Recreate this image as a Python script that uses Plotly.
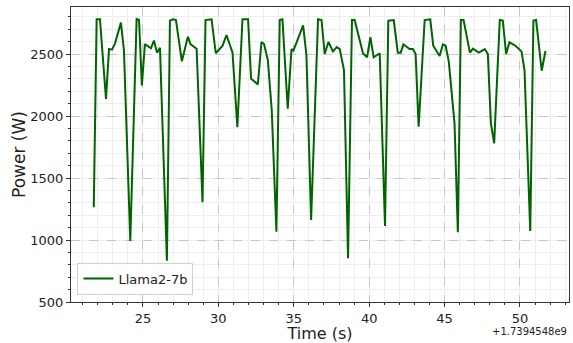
import plotly.graph_objects as go

TIME_OFFSET = 1.7394548e9
OFFSET_LABEL = "+1.7394548e9"
SERIES_NAME = "Llama2-7b"

# time (s) relative to TIME_OFFSET
time_rel = [21.74, 21.93, 22.15, 22.55, 22.75, 22.95, 23.15, 23.54, 23.74, 24.16,
            24.58, 24.74, 24.93, 25.13, 25.53, 25.73, 25.93, 26.13, 26.59, 26.79,
            26.99, 27.19, 27.58, 27.98, 28.16, 28.56, 28.95, 29.15, 29.55, 29.83,
            30.28, 30.54, 30.94, 31.26, 31.6, 31.97, 32.17, 32.62, 32.86, 33.03,
            33.28, 33.54, 33.85, 34.07, 34.25, 34.6, 34.85, 34.98, 35.62, 35.84,
            36.15, 36.61, 36.84, 37.05, 37.3, 37.6, 37.85, 38.05, 38.33, 38.6,
            38.86, 39.04, 39.59, 39.86, 40.08, 40.3, 40.7, 41.05, 41.27, 41.63,
            41.9, 42.09, 42.27, 42.68, 42.9, 43.08, 43.28, 43.68, 44.05, 44.25,
            44.67, 44.89, 45.07, 45.28, 45.66, 45.88, 46.08, 46.26, 46.68, 46.88,
            47.27, 47.67, 47.87, 48.07, 48.29, 48.66, 48.86, 49.08, 49.3, 49.7,
            50.1, 50.3, 50.68, 50.89, 51.07, 51.44, 51.69]
power_w = [1264, 2780, 2780, 2137, 2540, 2535, 2586, 2753, 2532, 992,
           2782, 2774, 2247, 2580, 2546, 2608, 2511, 2551, 833, 2769,
           2780, 2774, 2441, 2640, 2578, 2543, 1304, 2774, 2780, 2506,
           2567, 2653, 2511, 1909, 2780, 2780, 2301, 2255, 2597, 2580,
           2452, 2048, 1067, 2774, 2780, 2059, 2540, 2527, 2731, 2492,
           1161, 2780, 2774, 2500, 2597, 2521, 2556, 2540, 2371, 852,
           2774, 2774, 2506, 2473, 2635, 2473, 2506, 1113, 2769, 2774,
           2511, 2511, 2578, 2540, 2540, 2500, 1914, 2774, 2780, 2567,
           2484, 2578, 2567, 2438, 1941, 1062, 2774, 2774, 2511, 2543,
           2511, 2540, 2500, 1941, 1780, 2774, 2769, 2500, 2594, 2567,
           2521, 2371, 1073, 2769, 2774, 2365, 2524]

x_ticks = [25, 30, 35, 40, 45, 50]
y_ticks = [500, 1000, 1500, 2000, 2500]

fig = go.Figure()
fig.add_trace(go.Scatter(
    x=time_rel, y=power_w, mode="lines", name=SERIES_NAME,
    line=dict(color="#006400", width=2),
))

axis_common = dict(
    showline=True, linecolor="#333333", linewidth=1, mirror=True,
    ticks="outside", ticklen=4, tickcolor="#333333",
    showgrid=True, gridcolor="#c8c8c8", griddash="dash", gridwidth=0.8,
    zeroline=False, automargin=False,
    tickfont=dict(size=13, color="#222222"),
)

fig.update_layout(
    width=573, height=343,
    margin=dict(l=71, r=4, t=7, b=41),
    paper_bgcolor="white", plot_bgcolor="white",
    font=dict(family="DejaVu Sans", color="#222222"),
    showlegend=True,
    legend=dict(
        x=0.013, y=0.025, xanchor="left", yanchor="bottom",
        bgcolor="rgba(255,255,255,0.85)", bordercolor="#d0d0d0", borderwidth=1,
        font=dict(size=13),
    ),
    xaxis=dict(
        range=[20.23, 53.25], tickvals=x_ticks,
        title=dict(text="Time (s)", font=dict(size=16), standoff=6),
        minor=dict(dtick=1, ticks="outside", ticklen=2, tickcolor="#333333",
                   showgrid=True, gridcolor="#eeeeee", gridwidth=0.6,
                   griddash="solid"),
        **axis_common,
    ),
    yaxis=dict(
        range=[500, 2879], tickvals=y_ticks,
        title=dict(text="Power (W)", font=dict(size=17), standoff=0),
        minor=dict(dtick=100, ticks="outside", ticklen=2, tickcolor="#333333",
                   showgrid=True, gridcolor="#eeeeee", gridwidth=0.6,
                   griddash="solid"),
        **axis_common,
    ),
    annotations=[dict(
        text=OFFSET_LABEL, xref="paper", yref="paper", x=1.0, y=-0.075,
        xanchor="right", yanchor="top", showarrow=False,
        font=dict(size=10, color="#222222"),
    )],
)

fig.write_html(
    "out.html",
    config={"displayModeBar": False},
    post_script="document.body.style.margin='0';document.body.style.overflow='hidden';",
)
